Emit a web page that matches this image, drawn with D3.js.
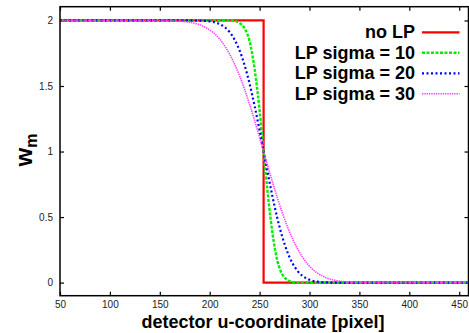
<!DOCTYPE html>
<html><head><meta charset="utf-8">
<script src="https://cdn.jsdelivr.net/npm/d3@7"></script>
<style>html,body{margin:0;padding:0;background:#fff;}svg{display:block;}</style>
</head><body>
<svg id="chart" width="469" height="333"></svg>
<script>
// ---- data ----
const u = [50, 150, 160, 170, 180, 190, 200, 205, 210, 215, 220, 225, 230, 235, 240, 245, 250, 254, 258, 263, 268, 273, 278, 283, 288, 293, 298, 303, 308, 318, 328, 338, 348, 358, 459];
const noLP_u = [50, 254, 254, 459];
const noLP = [2, 2, 0, 0];
const lpSigma10 = [2, 2, 2, 2, 2, 2, 2, 2, 2, 2, 2, 1.996, 1.98, 1.94, 1.84, 1.63, 1.31, 1.00, 0.69, 0.37, 0.16, 0.06, 0.02, 0.004, 0, 0, 0, 0, 0, 0, 0, 0, 0, 0, 0];
const lpSigma20 = [2, 2, 2, 2, 2, 1.999, 1.993, 1.986, 1.972, 1.949, 1.911, 1.853, 1.770, 1.658, 1.516, 1.347, 1.159, 1.00, 0.841, 0.653, 0.484, 0.342, 0.230, 0.147, 0.089, 0.051, 0.028, 0.014, 0.007, 0.001, 0, 0, 0, 0, 0];
const lpSigma30 = [2, 1.9995, 1.998, 1.995, 1.986, 1.967, 1.928, 1.898, 1.858, 1.806, 1.743, 1.666, 1.576, 1.473, 1.359, 1.236, 1.106, 1.00, 0.894, 0.764, 0.641, 0.527, 0.424, 0.334, 0.257, 0.194, 0.142, 0.102, 0.072, 0.033, 0.014, 0.005, 0.002, 0.0005, 0];
const seriesNames = ["no LP", "LP sigma = 10", "LP sigma = 20", "LP sigma = 30"];
const xTicks = [50, 100, 150, 200, 250, 300, 350, 400, 450];
const yTicks = [0, 0.5, 1, 1.5, 2];
const yTickLabels = ["0", "0.5", "1", "1.5", "2"];

// ---- layout ----
const L = 60, R = 468.5, T = 6.7, B = 295.7;
const svg = d3.select("#chart");
const x = d3.scaleLinear().domain([50, 459.3]).range([L, R]);
const y = d3.scaleLinear().domain([-0.1, 2.105]).range([B, T]);

const font = "'Liberation Sans', Arial, Helvetica, sans-serif";

// tick marks (inward, mirrored)
const tl = 4;
const axB = svg.append("g").attr("transform", `translate(0,${B})`)
  .call(d3.axisBottom(x).tickValues(xTicks).tickSize(-tl).tickPadding(5.5).tickFormat(d3.format("d")));
const axT = svg.append("g").attr("transform", `translate(0,${T})`)
  .call(d3.axisTop(x).tickValues(xTicks).tickSize(-tl).tickFormat(""));
const axL = svg.append("g").attr("transform", `translate(${L},0)`)
  .call(d3.axisLeft(y).tickValues(yTicks).tickSize(-tl).tickPadding(7).tickFormat((d, i) => yTickLabels[i]));
const axR = svg.append("g").attr("transform", `translate(${R},0)`)
  .call(d3.axisRight(y).tickValues(yTicks).tickSize(-tl).tickFormat(""));
[axB, axT, axL, axR].forEach(a => {
  a.select(".domain").remove();
  a.selectAll(".tick line").attr("stroke", "#000").attr("stroke-width", 1.2);
  a.selectAll(".tick text").attr("font-family", font).attr("font-size", 10).attr("fill", "#222");
});

// clip
svg.append("clipPath").attr("id", "clip").append("rect")
  .attr("x", L).attr("y", T).attr("width", R - L).attr("height", B - T);

const line = d3.line().x(d => x(d[0])).y(d => y(d[1]));
const smooth = d3.line().x(d => x(d[0])).y(d => y(d[1])).curve(d3.curveMonotoneX);

const styles = [
  {color: "#ff0000", width: 2.2, dash: null},
  {color: "#00ee00", width: 2.4, dash: "3,1.5"},
  {color: "#0000ff", width: 2.2, dash: "2,2.5"},
  {color: "#ff40ff", width: 1.6, dash: "1.4,0.9"}
];
const series = [
  d3.zip(noLP_u, noLP),
  d3.zip(u, lpSigma10),
  d3.zip(u, lpSigma20),
  d3.zip(u, lpSigma30)
];
const g = svg.append("g").attr("clip-path", "url(#clip)");
series.forEach((s, i) => {
  g.append("path").datum(s)
    .attr("d", i === 0 ? line : smooth)
    .attr("fill", "none")
    .attr("stroke", styles[i].color)
    .attr("stroke-width", styles[i].width)
    .attr("stroke-dasharray", styles[i].dash);
});

// border
svg.append("rect").attr("x", L).attr("y", T).attr("width", R - L).attr("height", B - T)
  .attr("fill", "none").attr("stroke", "#000").attr("stroke-width", 1.5);

// legend
const leg = svg.append("g");
seriesNames.forEach((name, i) => {
  const ly = 32.3 + i * 20.5;
  leg.append("text").attr("x", 415).attr("y", ly + 6).attr("text-anchor", "end")
    .attr("font-family", font).attr("font-weight", "bold").attr("font-size", 18).attr("fill", "#000")
    .text(name);
  leg.append("line").attr("x1", 422).attr("x2", 459.5).attr("y1", ly).attr("y2", ly)
    .attr("stroke", styles[i].color).attr("stroke-width", styles[i].width)
    .attr("stroke-dasharray", styles[i].dash);
});

// axis titles
svg.append("text").attr("x", 263).attr("y", 327.5).attr("text-anchor", "middle")
  .attr("font-family", font).attr("font-weight", "bold").attr("font-size", 18).attr("fill", "#000")
  .text("detector u-coordinate [pixel]");

const yt = svg.append("text").attr("transform", "translate(32,150) rotate(-90)")
  .attr("text-anchor", "middle").attr("font-family", font).attr("font-weight", "bold").attr("fill", "#000");
yt.append("tspan").attr("font-size", 24).text("w");
yt.append("tspan").attr("font-size", 16).attr("dy", 5).text("m");
</script>
</body></html>
